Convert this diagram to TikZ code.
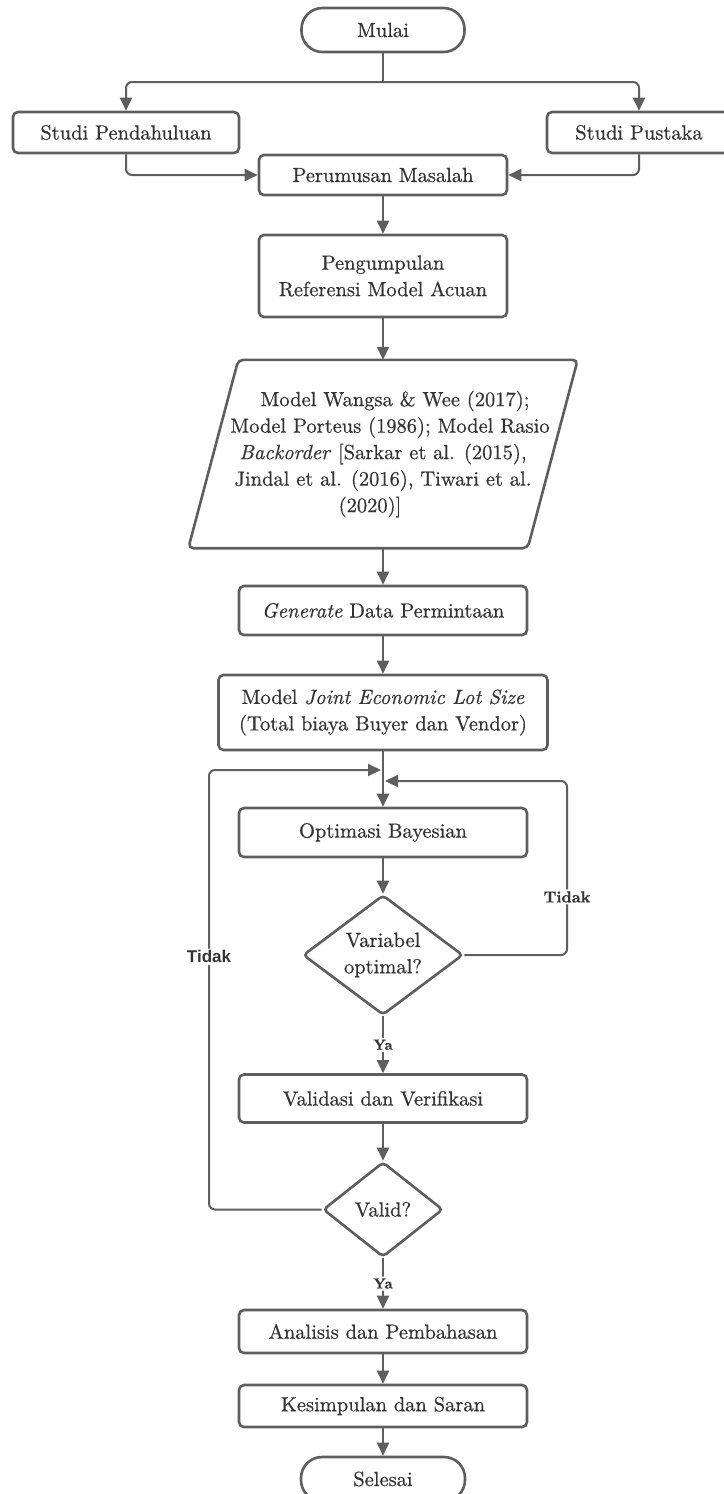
\documentclass[tikz,border=0pt]{standalone}
\usepackage{fontspec}
\setmainfont{lmroman10}[Extension=.otf, UprightFont=*-regular, ItalicFont=*-italic, BoldFont=*-bold, BoldItalicFont=*-bolditalic, UprightFeatures={FakeBold=0.6}, ItalicFeatures={FakeBold=0.6}]
\newfontfamily\labserif{lmroman10-bold}[Extension=.otf, FakeBold=1]
\newfontfamily\labsans{Liberation Sans}
\usetikzlibrary{shapes.geometric,arrows.meta,calc}
\definecolor{linec}{HTML}{5E5E5E}
\definecolor{textc}{HTML}{333333}
\newcommand\bxfont{\fontsize{20.5}{26.5}\selectfont}
\tikzset{
  base/.style={draw=linec, line width=2.6pt, fill=white, text=textc, align=center, inner sep=0pt, font=\bxfont},
  proc/.style={base, rectangle, rounded corners=5pt},
  term/.style={base, rectangle, rounded corners=21pt},
  dec/.style={base, diamond, rounded corners=4pt},
  conn/.style={draw=linec, line width=2pt, rounded corners=6pt},
  arr/.style={conn, -{Triangle[length=13pt,width=12pt]}},
  ylab/.style={fill=white, text=textc, font=\labserif\fontsize{14.5}{16}\selectfont, inner sep=2pt},
  rlab/.style={fill=white, text=textc, font=\labserif\fontsize{16}{18}\selectfont, inner sep=2pt},
  slab/.style={fill=white, text=textc, font=\labsans\bfseries\fontsize{17}{19}\selectfont, inner sep=2pt},
}
\begin{document}
\begin{tikzpicture}[x=1pt,y=-1pt]
\fill[white] (0,0) rectangle (723,1494);
\useasboundingbox (0,0) rectangle (723,1494);

\node[term, minimum width=163pt, minimum height=44pt] (mulai) at (383,30) {Mulai};
\node[proc, minimum width=226pt, minimum height=41pt] (sp) at (126,132.5) {Studi Pendahuluan};
\node[proc, minimum width=184pt, minimum height=41pt] (spk) at (639,132.5) {Studi Pustaka};
\node[proc, minimum width=248pt, minimum height=40pt] (per) at (383,175) {Perumusan Masalah};
\node[proc, minimum width=248pt, minimum height=82pt] (peng) at (383,276) {Pengumpulan\\Referensi Model Acuan};
\node[inner sep=0pt, minimum width=339pt, minimum height=188pt, text=textc, align=center, font=\bxfont] (par) at (383,454)
  {\hspace*{24pt}Model Wangsa \& Wee (2017);\\\hspace*{14pt}Model Porteus (1986); Model Rasio\\\textit{Backorder} [Sarkar et al. (2015),\\Jindal et al. (2016), Tiwari et al.\hspace*{14pt}\\(2020)]\hspace*{26pt}};
\draw[draw=linec, line width=2.6pt, rounded corners=5pt]
  ($(par.south west)+(-25,0)$) -- ($(par.north west)+(25,0)$) -- ($(par.north east)+(25,0)$) -- ($(par.south east)+(-25,0)$) -- cycle;
\node[proc, minimum width=288pt, minimum height=49pt] (gen) at (383,610.5) {\textit{Generate} Data Permintaan};
\node[proc, minimum width=329pt, minimum height=75pt] (jels) at (383,712.5) {Model \textit{Joint Economic Lot Size}\\(Total biaya Buyer dan Vendor)};
\node[proc, minimum width=288pt, minimum height=49pt] (opt) at (383,832.5) {Optimasi Bayesian};
\node[dec, minimum width=160pt, minimum height=120pt, aspect=1.33] (d1) at (383,955) {Variabel\\optimal?};
\node[proc, minimum width=288pt, minimum height=48pt] (val) at (383,1098.5) {Validasi dan Verifikasi};
\node[dec, minimum width=120pt, minimum height=95pt, aspect=1.26] (d2) at (383,1209.5) {Valid?};
\node[proc, minimum width=288pt, minimum height=43pt] (ana) at (383,1331.5) {Analisis dan Pembahasan};
\node[proc, minimum width=288pt, minimum height=42pt] (kes) at (383,1406) {Kesimpulan dan Saran};
\node[term, minimum width=164pt, minimum height=44pt] (sel) at (383,1479) {Selesai};

\coordinate (jn) at (383,82);
\coordinate (rc) at (567,781);
\coordinate (m2) at (385,781);
\coordinate (lc) at (209,770);
\coordinate (m1) at (381,770);

\draw[conn] (mulai) -- (jn);
\draw[arr] (jn) -| (sp);
\draw[arr] (jn) -| (spk);
\draw[arr] (sp) |- (per);
\draw[arr] (spk) |- (per);
\draw[arr] (per) -- (peng);
\draw[arr] (peng) -- (par);
\draw[arr] (par) -- (gen);
\draw[arr] (gen) -- (jels);
\draw[arr] (jels) -- (opt);
\draw[arr] (opt) -- (d1);
\draw[arr] (d1.east) -| node[pos=0.667, rlab] {Tidak} (rc) -- (m2);
\draw[arr] (d1) -- node[ylab] {Ya} (val);
\draw[arr] (val) -- (d2);
\draw[arr] (d2.west) -| node[pos=0.7875, slab] {Tidak} (lc) -- (m1);
\draw[arr] (d2) -- node[ylab] {Ya} (ana);
\draw[arr] (ana) -- (kes);
\draw[arr] (kes) -- (sel);
\end{tikzpicture}
\end{document}
